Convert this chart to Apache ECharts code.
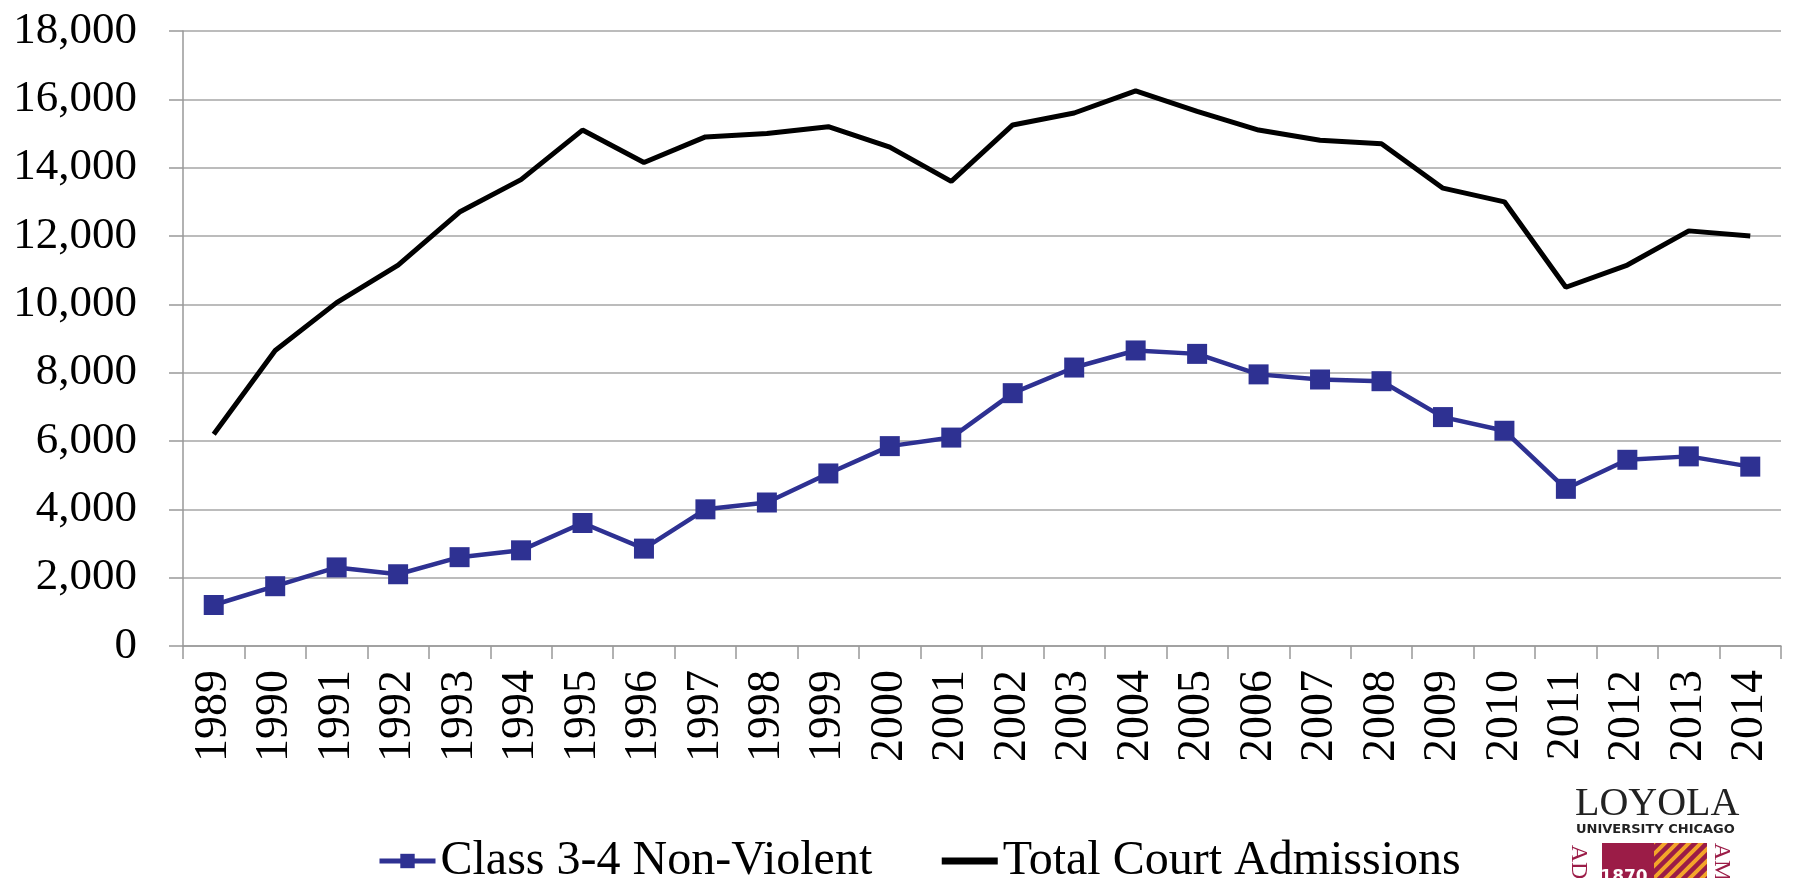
<!DOCTYPE html>
<html>
<head>
<meta charset="utf-8">
<script src="https://cdn.jsdelivr.net/npm/echarts@6/dist/echarts.min.js"></script>
<style>
  html, body { margin: 0; padding: 0; background: #fff; }
  #content { width: 1796px; height: 878px; }
</style>
</head>
<body>
<div id="content"></div>
<script>
var years = ['1989','1990','1991','1992','1993','1994','1995','1996','1997','1998','1999','2000','2001',
             '2002','2003','2004','2005','2006','2007','2008','2009','2010','2011','2012','2013','2014'];
var nonViolent = [1200, 1750, 2300, 2100, 2600, 2800, 3600, 2850, 4000, 4200, 5050, 5850, 6100,
                  7400, 8150, 8650, 8550, 7950, 7800, 7750, 6700, 6300, 4600, 5450, 5550, 5250];
var totalAdmissions = [6200, 8650, 10050, 11150, 12700, 13650, 15100, 14150, 14900, 15000, 15200, 14600, 13600,
                       15250, 15600, 16250, 15650, 15100, 14800, 14700, 13400, 13000, 10500, 11150, 12150, 12000];
var seriesNames = ['Class 3-4 Non-Violent', 'Total Court Admissions'];

var serif = '"Liberation Serif", "Times New Roman", serif';
var maroon = '#9b1c47';
var gold = '#f3a52a';

// stripes for the logo box
var stripe = document.createElement('canvas');
stripe.width = 12; stripe.height = 12;
var sc = stripe.getContext('2d');
sc.fillStyle = maroon;
sc.fillRect(0, 0, 12, 12);
sc.strokeStyle = gold;
sc.lineWidth = 4;
sc.beginPath();
sc.moveTo(-3, 15); sc.lineTo(15, -3);
sc.moveTo(-9, 9); sc.lineTo(9, -9);
sc.moveTo(3, 21); sc.lineTo(21, 3);
sc.stroke();

var myChart = echarts.init(document.getElementById('content'));
myChart.setOption({
    animation: false,
    grid: { left: 183, right: 15, top: 31, bottom: 232, containLabel: false },
    legend: {
        left: 372,
        top: 832,
        itemWidth: 56,
        itemHeight: 18,
        itemGap: 66,
        textStyle: { fontFamily: serif, fontSize: 48, color: '#000' },
        data: [
            { name: seriesNames[0], lineStyle: { width: 5 } },
            { name: seriesNames[1], itemStyle: { color: 'rgba(0,0,0,0)', borderWidth: 0 }, lineStyle: { width: 7 } }
        ]
    },
    xAxis: {
        type: 'category',
        data: years,
        boundaryGap: true,
        axisLine: { lineStyle: { color: '#999', width: 1.5 } },
        axisTick: { show: true, length: 13, lineStyle: { color: '#999', width: 1.5 } },
        axisLabel: {
            rotate: 90,
            margin: 24,
            interval: 0,
            fontFamily: serif,
            fontSize: 46,
            color: '#000'
        }
    },
    yAxis: {
        type: 'value',
        min: 0,
        max: 18000,
        interval: 2000,
        axisLine: { show: true, lineStyle: { color: '#999', width: 1.5 } },
        axisTick: { show: true, length: 14, lineStyle: { color: '#999', width: 1.5 } },
        splitLine: { lineStyle: { color: '#a6a6a6', width: 1.5 } },
        axisLabel: {
            margin: 46,
            fontFamily: serif,
            fontSize: 45,
            color: '#000',
            formatter: function (v) { return v.toLocaleString('en-US'); }
        }
    },
    series: [
        {
            name: seriesNames[0],
            type: 'line',
            data: nonViolent,
            symbol: 'rect',
            symbolSize: 20,
            lineStyle: { color: '#2e3192', width: 4.5 },
            itemStyle: { color: '#2e3192' }
        },
        {
            name: seriesNames[1],
            type: 'line',
            data: totalAdmissions,
            symbol: 'none',
            lineStyle: { color: '#000', width: 5 },
            itemStyle: { color: '#000' }
        }
    ],
    graphic: [
        { type: 'text', left: 1575, top: 784, style: { text: 'LOYOLA', font: '40px ' + serif, fill: '#222' } },
        { type: 'text', left: 1576, top: 823, style: { text: 'UNIVERSITY CHICAGO', font: 'bold 13px "DejaVu Sans", sans-serif', fill: '#222' } },
        { type: 'rect', shape: { x: 1602, y: 843, width: 52, height: 40 }, style: { fill: maroon } },
        { type: 'rect', shape: { x: 1654, y: 843, width: 53, height: 40 }, style: { fill: { image: stripe, repeat: 'repeat' } } },
        { type: 'text', x: 1624, y: 878, style: { text: '1870', font: 'bold 17px "DejaVu Sans", sans-serif', fill: '#fff', align: 'center', verticalAlign: 'middle' } },
        { type: 'text', x: 1578, y: 862, rotation: -Math.PI / 2, style: { text: 'AD', font: '24px ' + serif, fill: maroon, align: 'center', verticalAlign: 'middle' } },
        { type: 'text', x: 1721, y: 862, rotation: -Math.PI / 2, style: { text: 'AM', font: '24px ' + serif, fill: maroon, align: 'center', verticalAlign: 'middle' } }
    ]
});
</script>
</body>
</html>
